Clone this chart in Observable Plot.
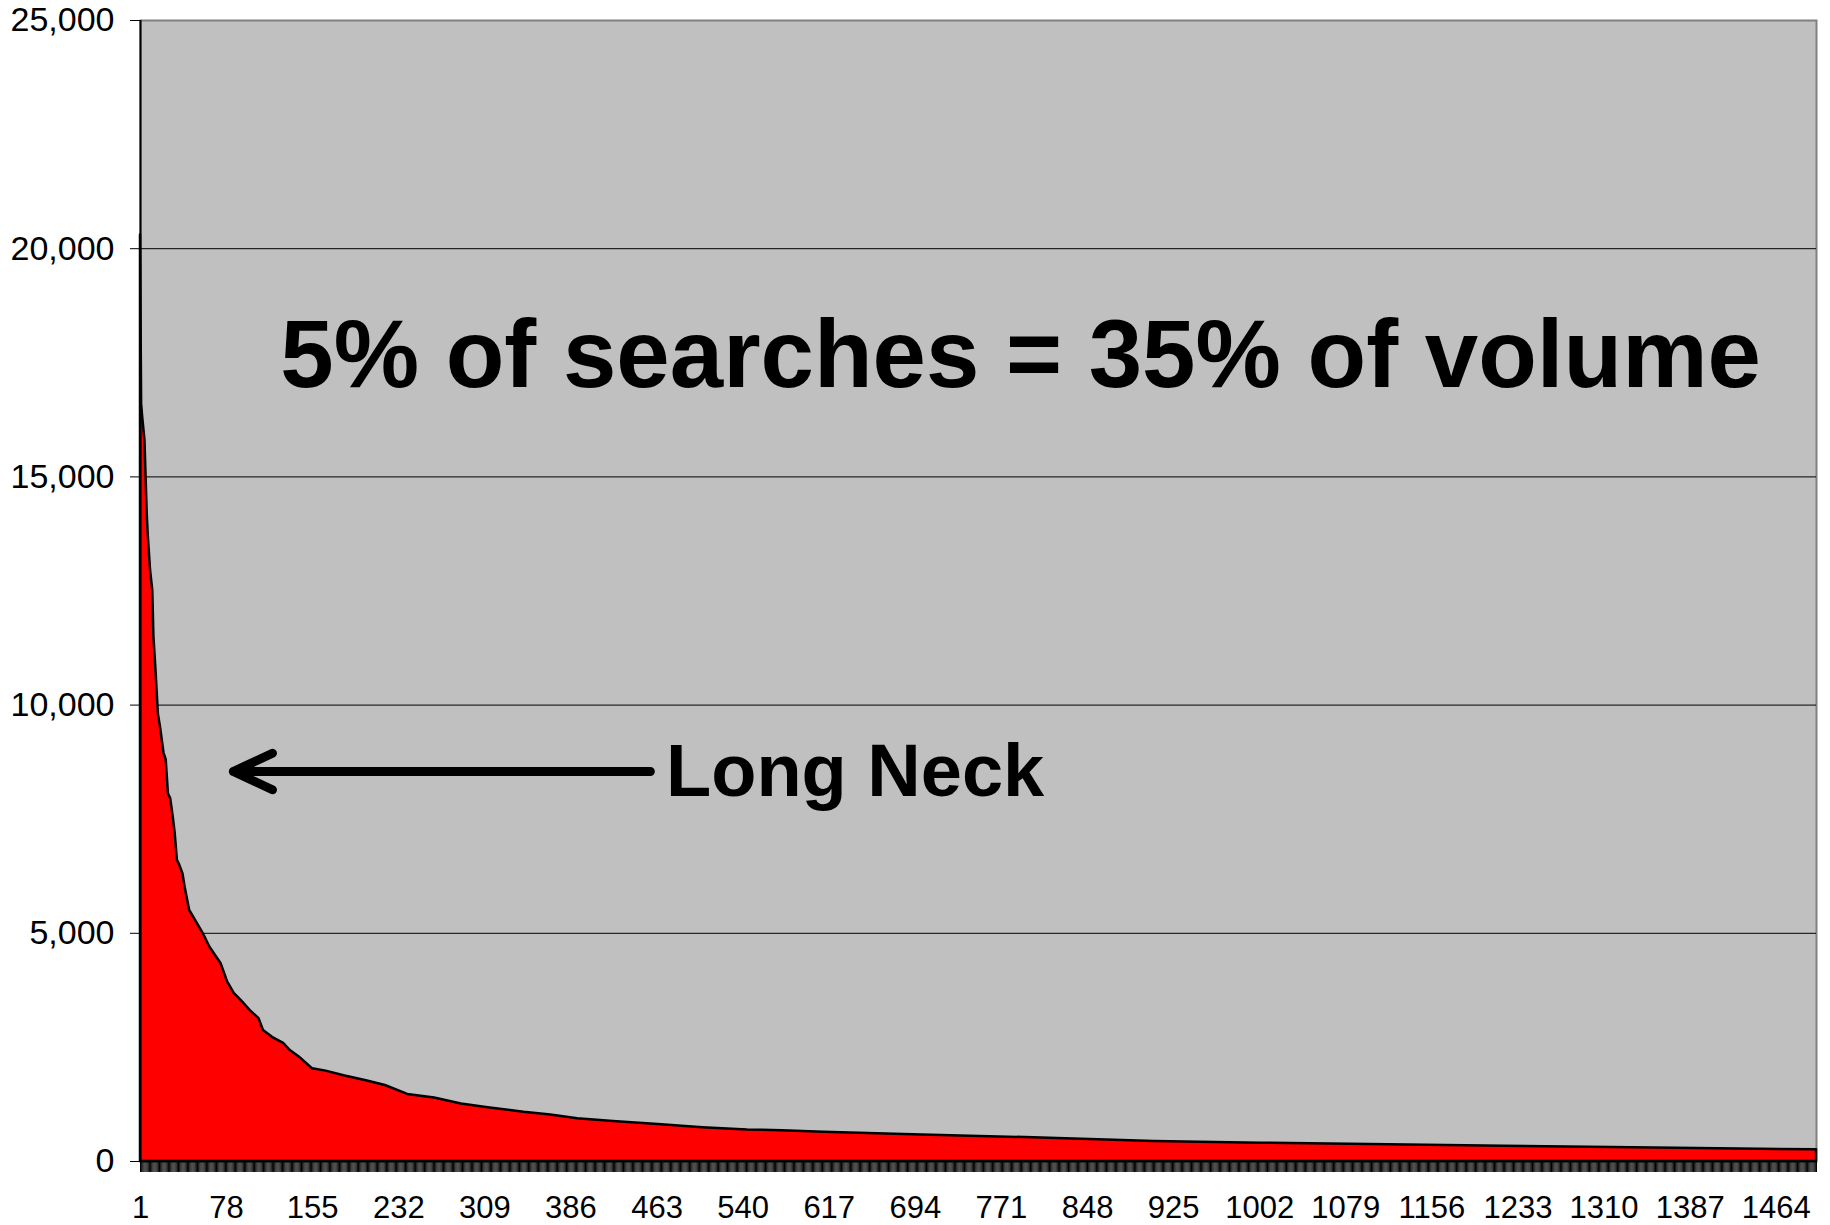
<!DOCTYPE html>
<html><head><meta charset="utf-8">
<script src="https://cdn.jsdelivr.net/npm/d3@7"></script>
<script src="https://cdn.jsdelivr.net/npm/@observablehq/plot@0.6"></script>
<style>body{margin:0;background:#fff}</style>
</head><body><div id="chart"></div>
<script>
// Search rank (x) and search volume (y)
const ranks   = [1, 2, 3, 5, 6, 7, 8, 10, 12, 13, 15, 17, 19, 22, 24, 26, 28, 30, 32, 34, 36, 39, 41, 45, 51, 57, 63, 69, 73, 79, 85, 91, 99, 107, 111, 119, 129, 135, 143, 155, 167, 183, 203, 220, 240, 264, 288, 312, 344, 368, 392, 424, 464, 504, 544, 575, 612, 700, 800, 908, 1003, 1100, 1220, 1375, 1500];
const volumes = [20300, 16600, 16300, 15800, 15000, 14200, 13700, 12950, 12500, 11500, 10700, 9800, 9500, 8950, 8800, 8050, 7950, 7600, 7200, 6600, 6500, 6300, 6000, 5500, 5250, 5000, 4700, 4480, 4340, 3930, 3680, 3530, 3310, 3130, 2870, 2720, 2590, 2430, 2290, 2030, 1980, 1880, 1770, 1665, 1470, 1390, 1260, 1180, 1080, 1020, 935, 875, 810, 740, 690, 675, 640, 580, 520, 440, 401, 370, 336, 292, 255];
const rankCount = 1500;
const xTickLabels = [1, 78, 155, 232, 309, 386, 463, 540, 617, 694, 771, 848, 925, 1002, 1079, 1156, 1233, 1310, 1387, 1464];
const yTicks = [0, 5000, 10000, 15000, 20000, 25000];
const headline = "5% of searches = 35% of volume";
const neckLabel = "Long Neck";

const data = ranks.map((r, i) => ({rank: r, volume: volumes[i]}));
const categoryTicks = d3.range(1, rankCount + 1);

const chart = Plot.plot({
  width: 1830,
  height: 1225,
  marginLeft: 140,
  marginRight: 14,
  marginTop: 20,
  marginBottom: 64,
  style: {fontFamily: "'Liberation Sans', Arial, sans-serif", background: "#fff", color: "#000"},
  x: {type: "linear", domain: [1, rankCount]},
  y: {domain: [0, 25000]},
  marks: [
    Plot.frame({fill: "#c0c0c0", stroke: "#808080", strokeWidth: 2}),
    Plot.ruleY(yTicks.filter(v => v > 0 && v < 25000), {stroke: "#000", strokeWidth: 1}),
    Plot.areaY(data, {x: "rank", y: "volume", fill: "#ff0000", stroke: "#000", strokeWidth: 2.5, strokeLinejoin: "round"}),
    Plot.ruleX([1], {stroke: "#000", strokeWidth: 2}),
    Plot.ruleX(categoryTicks, {y1: 0, y2: -241, stroke: "#000", strokeWidth: 1}),
    Plot.axisY({ticks: yTicks, tickSize: 10, tickPadding: 16, tickFormat: d3.format(","), fontSize: 34, label: null, stroke: "#000"}),
    Plot.axisX({ticks: xTickLabels, tickSize: 0, tickPadding: 34, tickFormat: d => String(d), fontSize: 31, label: null}),
    Plot.text([{rank: 126, volume: 16980, label: headline}], {x: "rank", y: "volume", text: "label", textAnchor: "start", lineAnchor: "bottom", fontSize: 96, fontWeight: "bold", fill: "#000"}),
    Plot.text([{rank: 471, volume: 8000, label: neckLabel}], {x: "rank", y: "volume", text: "label", textAnchor: "start", lineAnchor: "bottom", fontSize: 74, fontWeight: "bold", fill: "#000"}),
    Plot.arrow([{from: 457, to: 84, volume: 8545}], {x1: "from", x2: "to", y1: "volume", y2: "volume", stroke: "#000", strokeWidth: 9, headAngle: 50, headLength: 7.2, strokeLinecap: "round", strokeLinejoin: "miter"})
  ]
});
document.getElementById("chart").appendChild(chart);
</script>
</body></html>
